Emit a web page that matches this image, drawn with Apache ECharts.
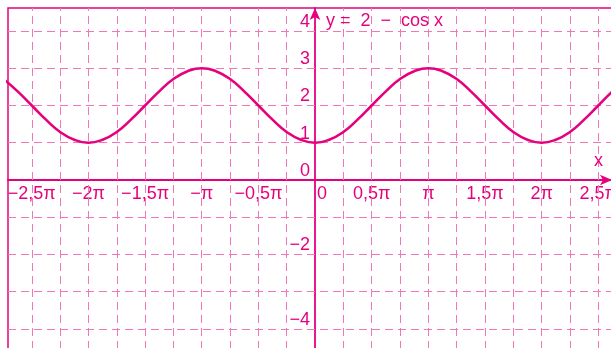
<!DOCTYPE html>
<html>
<head>
<meta charset="utf-8">
<script src="https://cdn.jsdelivr.net/npm/echarts@6/dist/echarts.min.js"></script>
<style>
    html, body { margin: 0; padding: 0; background: #fff; }
    #chart { width: 611px; height: 348px; }
</style>
</head>
<body>
<div id="chart"></div>
<script>
// x in units of pi
const xs = [-2.75, -2.625, -2.5, -2.375, -2.25, -2.125, -2, -1.875, -1.75, -1.625, -1.5, -1.375,
    -1.25, -1.125, -1, -0.875, -0.75, -0.625, -0.5, -0.375, -0.25, -0.125, 0, 0.125, 0.25, 0.375,
    0.5, 0.625, 0.75, 0.875, 1, 1.125, 1.25, 1.375, 1.5, 1.625, 1.75, 1.875, 2, 2.125, 2.25,
    2.375, 2.5, 2.625, 2.75]
const ys = [2.71, 2.38, 2.00, 1.62, 1.29, 1.08, 1.00, 1.08, 1.29, 1.62, 2.00, 2.38,
    2.71, 2.92, 3.00, 2.92, 2.71, 2.38, 2.00, 1.62, 1.29, 1.08, 1.00, 1.08, 1.29, 1.62,
    2.00, 2.38, 2.71, 2.92, 3.00, 2.92, 2.71, 2.38, 2.00, 1.62, 1.29, 1.08, 1.00, 1.08, 1.29,
    1.62, 2.00, 2.38, 2.71]

const xTickValues = [-2.5, -2, -1.5, -1, -0.5, 0, 0.5, 1, 1.5, 2, 2.5]
const xTickLabels = ['−2,5π', '−2π', '−1,5π', '−π', '−0,5π', '0', '0,5π', 'π', '1,5π', '2π', '2,5π']
const yTickValues = [-4, -2, 0, 1, 2, 3, 4]
const yTickLabels = ['−4', '−2', '0', '1', '2', '3', '4']
const gridX = [-2.5, -2.25, -2, -1.75, -1.5, -1.25, -1, -0.75, -0.5, -0.25,
    0.25, 0.5, 0.75, 1, 1.25, 1.5, 1.75, 2, 2.25, 2.5]
const gridY = [-4, -3, -2, -1, 1, 2, 3, 4]

const pink = '#e5007e'
const gridPink = '#f277b6'
const font = 'Liberation Sans, Arial, sans-serif'

const chart = echarts.init(document.getElementById('chart'))

const option = {
    animation: false,
    title: [
        {
            text: 'y =  2  −  cos x',
            left: 321, top: 7,
            textStyle: { fontSize: 18, fontWeight: 'normal', color: pink, fontFamily: font }
        },
        {
            text: 'x',
            left: 589, top: 147,
            textStyle: { fontSize: 18, fontWeight: 'normal', color: pink, fontFamily: font }
        }
    ],
    grid: {
        left: 8, top: 8, right: -1, bottom: -1,
        outerBoundsMode: 'none',
        containLabel: false,
        show: true,
        borderColor: pink,
        borderWidth: 1.5
    },
    xAxis: {
        type: 'value',
        min: -2.71, max: 2.621,
        position: 'bottom',
        offset: -169,
        axisLine: {
            onZero: false,
            symbol: ['none', 'arrow'],
            symbolSize: [8, 12],
            lineStyle: { color: pink, width: 1.8 }
        },
        axisTick: { show: false },
        splitLine: { show: false },
        axisLabel: {
            customValues: xTickValues,
            margin: 5,
            color: pink,
            fontSize: 18,
            fontFamily: font,
            formatter: (v) => {
                const i = xTickValues.indexOf(v)
                if (v === 0) return '{z|0}'
                return i >= 0 ? xTickLabels[i] : ''
            },
            rich: {
                z: { padding: [0, 0, 5, 14], fontSize: 18, color: pink, fontFamily: font }
            }
        }
    },
    yAxis: {
        type: 'value',
        min: -4.537, max: 4.617,
        position: 'left',
        offset: -307,
        axisLine: {
            onZero: false,
            symbol: ['none', 'arrow'],
            symbolSize: [8, 12],
            lineStyle: { color: pink, width: 1.8 }
        },
        axisTick: { show: false },
        splitLine: { show: false },
        axisLabel: {
            customValues: yTickValues,
            margin: 5,
            verticalAlign: 'bottom',
            color: pink,
            fontSize: 18,
            fontFamily: font,
            formatter: (v) => {
                const i = yTickValues.indexOf(v)
                return i >= 0 ? yTickLabels[i] : ''
            }
        }
    },
    series: [
        {
            type: 'scatter',
            data: [],
            silent: true,
            z: 1,
            markLine: {
                silent: true,
                symbol: 'none',
                label: { show: false },
                lineStyle: { color: gridPink, width: 1, type: [8, 5] },
                data: gridX.map(x => ({ xAxis: x })).concat(gridY.map(y => ({ yAxis: y })))
            }
        },
        {
            type: 'line',
            data: xs.map((x, i) => [x, ys[i]]),
            smooth: true,
            showSymbol: false,
            z: 5,
            lineStyle: { color: pink, width: 2.6 }
        }
    ]
}

chart.setOption(option)
</script>
</body>
</html>
